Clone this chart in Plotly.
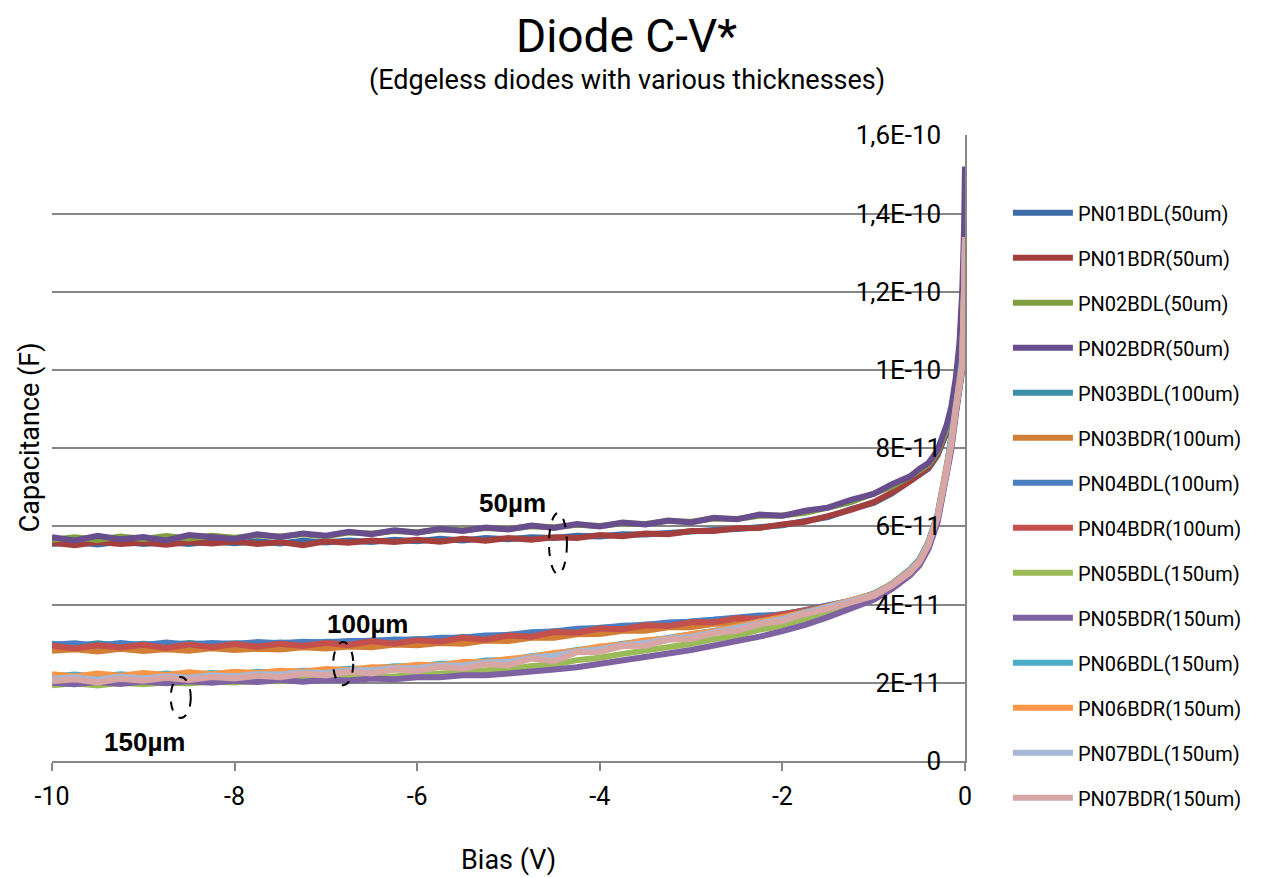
import plotly.graph_objects as go

# Shared bias values (V)
bias = [-10, -9.75, -9.5, -9.25, -9, -8.75, -8.5, -8.25, -8, -7.75, -7.5, -7.25, -7,
        -6.75, -6.5, -6.25, -6, -5.75, -5.5, -5.25, -5, -4.75, -4.5, -4.25, -4,
        -3.75, -3.5, -3.25, -3, -2.75, -2.5, -2.25, -2, -1.75, -1.5, -1.25, -1,
        -0.8, -0.6, -0.5, -0.4, -0.3, -0.2, -0.15, -0.1, -0.06, -0.03, -0.01, 0]

# Capacitance values in units of 1E-11 F
pn01bdl = [5.55, 5.60, 5.54, 5.61, 5.55, 5.60, 5.55, 5.62, 5.57, 5.62, 5.56, 5.63, 5.59, 5.64, 5.60, 5.66, 5.62, 5.68, 5.64, 5.70, 5.67, 5.72, 5.70, 5.76, 5.74, 5.80, 5.79, 5.84, 5.86, 5.91, 5.93, 5.99, 6.03, 6.14, 6.24, 6.44, 6.60,
           6.84, 7.14, 7.30, 7.48, 7.82, 8.4, 8.85, 9.55, 10.4, 11.6, 12.6, 12.9]
pn01bdr = [5.58, 5.52, 5.60, 5.55, 5.59, 5.53, 5.60, 5.56, 5.61, 5.55, 5.60, 5.52, 5.62, 5.58, 5.64, 5.60, 5.66, 5.61, 5.68, 5.63, 5.70, 5.66, 5.72, 5.70, 5.78, 5.75, 5.82, 5.80, 5.88, 5.88, 5.95, 5.96, 6.05, 6.12, 6.26, 6.42, 6.62,
           6.86, 7.16, 7.32, 7.5, 7.85, 8.45, 8.9, 9.6, 10.5, 11.7, 12.8, 13.0]
pn02bdl = [5.66, 5.72, 5.65, 5.74, 5.68, 5.75, 5.69, 5.76, 5.71, 5.77, 5.74, 5.80, 5.75, 5.84, 5.82, 5.88, 5.85, 5.92, 5.90, 5.96, 5.93, 6.00, 5.98, 6.04, 6.01, 6.08, 6.06, 6.14, 6.12, 6.20, 6.19, 6.27, 6.28, 6.35, 6.48, 6.62, 6.84,
           7.02, 7.28, 7.42, 7.58, 7.9, 8.5, 8.95, 9.6, 10.4, 11.5, 12.8, 13.0]
pn02bdr = [5.72, 5.64, 5.76, 5.67, 5.73, 5.64, 5.78, 5.72, 5.68, 5.80, 5.73, 5.82, 5.76, 5.86, 5.80, 5.90, 5.84, 5.94, 5.88, 5.97, 5.92, 6.02, 5.96, 6.06, 6.00, 6.10, 6.05, 6.15, 6.10, 6.22, 6.18, 6.30, 6.27, 6.40, 6.48, 6.68, 6.83,
           7.08, 7.28, 7.47, 7.62, 7.95, 8.6, 9.05, 9.8, 10.7, 12.0, 13.6, 15.2]
pn03bdl = [3.00, 2.94, 3.01, 2.95, 3.00, 2.96, 3.02, 2.97, 3.01, 2.99, 3.03, 3.00, 3.05, 3.04, 3.08, 3.07, 3.12, 3.11, 3.17, 3.17, 3.23, 3.24, 3.32, 3.33, 3.41, 3.42, 3.49, 3.50, 3.57, 3.60, 3.66, 3.69, 3.76, 3.84, 3.98, 4.09, 4.28,
           4.53, 4.9, 5.15, 5.6, 6.3, 7.5, 8.2, 9.1, 9.7, 10.3, 12.2, 13.2]
pn03bdr = [2.82, 2.86, 2.80, 2.87, 2.81, 2.86, 2.82, 2.88, 2.84, 2.87, 2.85, 2.91, 2.88, 2.93, 2.91, 2.98, 2.96, 3.02, 3.00, 3.08, 3.07, 3.15, 3.15, 3.24, 3.25, 3.33, 3.33, 3.42, 3.42, 3.51, 3.52, 3.61, 3.63, 3.76, 3.90, 4.05, 4.22,
           4.48, 4.82, 5.08, 5.52, 6.2, 7.35, 8.05, 8.95, 9.55, 10.1, 11.9, 12.9]
pn04bdl = [2.97, 3.01, 2.95, 3.02, 2.96, 3.03, 2.98, 3.02, 2.99, 3.04, 3.01, 3.05, 3.03, 3.07, 3.07, 3.11, 3.10, 3.15, 3.16, 3.21, 3.22, 3.29, 3.31, 3.38, 3.40, 3.46, 3.48, 3.54, 3.56, 3.62, 3.65, 3.72, 3.74, 3.85, 3.96, 4.10, 4.27,
           4.52, 4.88, 5.12, 5.58, 6.28, 7.45, 8.15, 9.05, 9.7, 10.3, 12.1, 13.1]
pn04bdr = [2.95, 2.88, 2.96, 2.90, 2.97, 2.89, 2.98, 2.91, 2.99, 2.92, 3.00, 2.94, 3.02, 2.97, 3.06, 3.00, 3.09, 3.05, 3.15, 3.10, 3.21, 3.18, 3.30, 3.28, 3.39, 3.37, 3.47, 3.45, 3.55, 3.55, 3.65, 3.64, 3.75, 3.84, 3.96, 4.10, 4.26,
           4.5, 4.85, 5.1, 5.55, 6.25, 7.4, 8.1, 9.0, 9.6, 10.2, 12.0, 13.0]
pn05bdl = [1.94, 1.99, 1.93, 2.00, 1.96, 2.01, 1.98, 2.03, 2.01, 2.05, 2.04, 2.09, 2.08, 2.14, 2.13, 2.18, 2.20, 2.24, 2.26, 2.32, 2.34, 2.43, 2.47, 2.58, 2.64, 2.74, 2.82, 2.92, 3.00, 3.12, 3.20, 3.36, 3.46, 3.63, 3.80, 3.98, 4.16,
           4.42, 4.78, 5.02, 5.45, 6.15, 7.3, 8.0, 8.9, 9.5, 10.0, 11.8, 13.0]
pn05bdr = [2.00, 1.96, 2.02, 1.97, 2.03, 1.99, 2.04, 2.00, 2.05, 2.02, 2.07, 2.03, 2.08, 2.06, 2.11, 2.09, 2.14, 2.14, 2.19, 2.19, 2.24, 2.28, 2.34, 2.40, 2.48, 2.56, 2.64, 2.75, 2.84, 2.95, 3.06, 3.18, 3.32, 3.48, 3.68, 3.90, 4.12,
           4.4, 4.75, 5.0, 5.42, 6.1, 7.25, 7.95, 8.85, 9.45, 10.0, 12.0, 13.0]
pn06bdl = [2.16, 2.21, 2.15, 2.22, 2.17, 2.24, 2.19, 2.25, 2.22, 2.28, 2.26, 2.31, 2.30, 2.36, 2.36, 2.42, 2.42, 2.49, 2.49, 2.57, 2.58, 2.68, 2.74, 2.84, 2.90, 3.00, 3.06, 3.15, 3.22, 3.34, 3.42, 3.57, 3.66, 3.82, 3.94, 4.11, 4.26,
           4.53, 4.9, 5.15, 5.6, 6.3, 7.5, 8.2, 9.1, 9.7, 10.3, 12.1, 13.2]
pn06bdr = [2.22, 2.16, 2.24, 2.18, 2.25, 2.20, 2.27, 2.22, 2.28, 2.25, 2.31, 2.28, 2.35, 2.33, 2.40, 2.39, 2.46, 2.45, 2.53, 2.53, 2.61, 2.66, 2.76, 2.82, 2.93, 2.98, 3.09, 3.13, 3.24, 3.32, 3.44, 3.55, 3.68, 3.80, 3.95, 4.10, 4.27,
           4.52, 4.88, 5.12, 5.58, 6.28, 7.45, 8.15, 9.05, 9.65, 10.2, 12.1, 13.1]
pn07bdl = [2.10, 2.14, 2.08, 2.16, 2.11, 2.17, 2.13, 2.19, 2.17, 2.22, 2.21, 2.26, 2.25, 2.32, 2.32, 2.37, 2.38, 2.44, 2.44, 2.52, 2.54, 2.64, 2.70, 2.80, 2.86, 2.96, 3.02, 3.12, 3.18, 3.29, 3.39, 3.53, 3.63, 3.79, 3.93, 4.09, 4.25,
           4.5, 4.85, 5.1, 5.55, 6.25, 7.4, 8.1, 9.0, 9.6, 10.2, 12.0, 13.4]
pn07bdr = [2.04, 2.09, 2.01, 2.10, 2.05, 2.13, 2.07, 2.15, 2.11, 2.18, 2.14, 2.23, 2.19, 2.28, 2.24, 2.34, 2.30, 2.41, 2.36, 2.48, 2.45, 2.62, 2.55, 2.78, 2.79, 2.94, 2.95, 3.10, 3.12, 3.27, 3.33, 3.50, 3.58, 3.76, 3.89, 4.07, 4.22,
           4.48, 4.82, 5.08, 5.52, 6.22, 7.38, 8.08, 9.0, 9.55, 10.1, 12.0, 13.4]

series_names = ["PN01BDL(50um)", "PN01BDR(50um)", "PN02BDL(50um)", "PN02BDR(50um)",
                "PN03BDL(100um)", "PN03BDR(100um)", "PN04BDL(100um)", "PN04BDR(100um)",
                "PN05BDL(150um)", "PN05BDR(150um)", "PN06BDL(150um)", "PN06BDR(150um)",
                "PN07BDL(150um)", "PN07BDR(150um)"]
series_values = [pn01bdl, pn01bdr, pn02bdl, pn02bdr, pn03bdl, pn03bdr, pn04bdl, pn04bdr,
                 pn05bdl, pn05bdr, pn06bdl, pn06bdr, pn07bdl, pn07bdr]
colors = ["#3D6CA6", "#A3403D", "#80A040", "#684E8D", "#3A8EA5", "#D27E34", "#4A7EC0",
          "#C4504D", "#9BBB59", "#7E62A2", "#4BADC8", "#F79646", "#A6B8D6", "#D8A6A5"]

y_tickvals = [0, 2e-11, 4e-11, 6e-11, 8e-11, 1e-10, 1.2e-10, 1.4e-10, 1.6e-10]
y_ticktext = ["0", "2E-11", "4E-11", "6E-11", "8E-11", "1E-10", "1,2E-10", "1,4E-10", "1,6E-10"]
x_tickvals = [-10, -8, -6, -4, -2, 0]

FONT = "Roboto, sans-serif"

fig = go.Figure()
for name, vals, col in zip(series_names, series_values, colors):
    fig.add_trace(go.Scatter(
        x=bias, y=[v * 1e-11 for v in vals], mode="lines", name=name,
        legendgroup=name, line=dict(color=col, width=6)))

fig.update_layout(
    width=1263, height=878,
    margin=dict(l=44, r=306, t=127, b=125),
    paper_bgcolor="white", plot_bgcolor="white",
    showlegend=True,
    legend=dict(x=1.047, y=0.907, xanchor="left", yanchor="top",
                font=dict(family=FONT, size=20, color="#000000"),
                tracegroupgap=16, bgcolor="rgba(0,0,0,0)", maxheight=720,
                itemwidth=60),
    xaxis=dict(range=[-10, 0.0005], tickvals=x_tickvals, ticktext=[str(v) for v in x_tickvals],
               showgrid=False, zeroline=False, showline=True, linecolor="#868686", linewidth=2,
               ticks="outside", ticklen=8, tickwidth=2, tickcolor="#868686",
               ticklabeloverflow="allow",
               tickfont=dict(family=FONT, size=25, color="#000000"), ticklabelstandoff=4),
    yaxis=dict(range=[0, 1.6008e-10], side="right", tickvals=y_tickvals, ticktext=y_ticktext,
               showgrid=True, gridcolor="#868686", gridwidth=2, zeroline=False,
               showline=True, linecolor="#868686", linewidth=2, ticks="",
               ticklabelposition="inside", ticklabelstandoff=26, ticklabeloverflow="allow",
               tickfont=dict(family=FONT, size=26, color="#000000")),
    annotations=[
        dict(text="Diode C-V*", xref="paper", yref="paper", x=0.6287, y=1.0, yshift=99,
             xanchor="center", yanchor="middle", showarrow=False,
             font=dict(family=FONT, size=46, color="#000000")),
        dict(text="(Edgeless diodes with various thicknesses)", xref="paper", yref="paper",
             x=0.630, y=1.0, yshift=55, xanchor="center", yanchor="middle", showarrow=False,
             font=dict(family=FONT, size=27, color="#000000")),
        dict(text="Capacitance (F)", xref="paper", yref="paper", x=0, xshift=-22, y=0.517,
             xanchor="center", yanchor="middle",
             textangle=-90, showarrow=False, font=dict(family=FONT, size=27, color="#000000")),
        dict(text="Bias (V)", xref="paper", yref="paper", x=0.4995, y=0, yshift=-99,
             xanchor="center", yanchor="middle",
             showarrow=False, font=dict(family=FONT, size=27, color="#000000")),
        dict(text="<b>50µm</b>", x=-4.96, y=6.6e-11, xref="x", yref="y", showarrow=False,
             font=dict(family="Liberation Sans, Arial, sans-serif", size=26, color="#000000")),
        dict(text="<b>100µm</b>", x=-6.54, y=3.5e-11, xref="x", yref="y", showarrow=False,
             font=dict(family="Liberation Sans, Arial, sans-serif", size=26, color="#000000")),
        dict(text="<b>150µm</b>", x=-8.99, y=0.49e-11, xref="x", yref="y", showarrow=False,
             font=dict(family="Liberation Sans, Arial, sans-serif", size=26, color="#000000")),
    ],
    shapes=[
        dict(type="circle", xref="x", yref="y", x0=-4.556, x1=-4.36, y0=4.78e-11, y1=6.34e-11,
             line=dict(color="#000000", width=2, dash="dash")),
        dict(type="circle", xref="x", yref="y", x0=-6.92, x1=-6.70, y0=1.94e-11, y1=3.04e-11,
             line=dict(color="#000000", width=2, dash="dash")),
        dict(type="circle", xref="x", yref="y", x0=-8.70, x1=-8.48, y0=1.10e-11, y1=2.15e-11,
             line=dict(color="#000000", width=2, dash="dash")),
    ],
)

fig.write_html("out.html")
